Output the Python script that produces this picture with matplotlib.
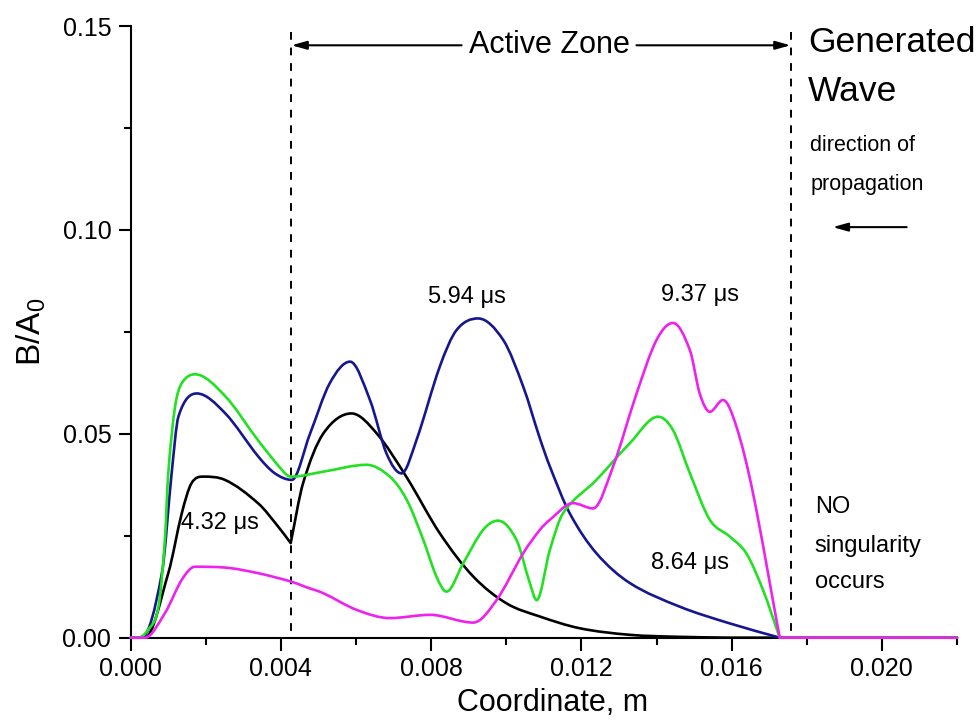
import numpy as np
import matplotlib
matplotlib.use('Agg')
import matplotlib.pyplot as plt
from matplotlib.path import Path
from matplotlib.patches import PathPatch
from matplotlib.ticker import MultipleLocator, FormatStrFormatter

plt.rcParams['font.family'] = ['Liberation Sans', 'DejaVu Sans']
plt.rcParams['mathtext.fontset'] = 'custom'
plt.rcParams['mathtext.rm'] = 'Liberation Sans'
plt.rcParams['mathtext.default'] = 'rm'

# coordinates in mm, values B/A0
black_x = [0.0, 0.38, 1.00, 1.36, 1.62, 1.93, 2.51, 3.40, 3.93, 4.26, 4.59, 5.13, 5.88,
           6.55, 7.35, 8.23, 9.12, 10.01, 10.89, 11.96, 13.29, 14.62, 16.0, 22.0]
black_y = [0.0, 0.0, 0.0158, 0.0305, 0.0379, 0.0395, 0.0387, 0.0329, 0.0272, 0.0232, 0.0379,
           0.0501, 0.0550, 0.0501, 0.0393, 0.0256, 0.0150, 0.0084, 0.0052, 0.0023, 0.0007,
           0.0002, 0.0, 0.0]

blue_x = [0.0, 0.29, 0.83, 1.09, 1.27, 1.76, 2.51, 3.40, 3.84, 4.29, 4.77, 5.30, 5.84, 6.37,
          6.81, 7.21, 7.61, 8.23, 8.68, 9.25, 9.92, 10.45, 10.89, 11.16, 11.69, 12.40, 13.29,
          14.62, 15.95, 17.28, 22.0]
blue_y = [0.0, 0.0, 0.0158, 0.0403, 0.0542, 0.0599, 0.0551, 0.0444, 0.0403, 0.0387, 0.0499,
          0.0624, 0.0677, 0.0583, 0.0452, 0.0403, 0.0485, 0.0665, 0.0755, 0.0783, 0.0730,
          0.0616, 0.0490, 0.0420, 0.0305, 0.0207, 0.0134, 0.0076, 0.0035, 0.0, 0.0]

green_x = [0.0, 0.19, 0.46, 0.74, 0.91, 1.00, 1.18, 1.36, 1.71, 2.51, 3.40, 4.11, 4.29, 5.12,
           6.28, 6.90, 7.35, 7.79, 8.14, 8.41, 8.85, 9.38, 9.78, 10.27, 10.63, 10.81, 11.16,
           11.51, 12.40, 13.29, 14.04, 14.44, 14.89, 15.42, 15.95, 16.39, 16.84, 17.28, 22.0]
green_y = [0.0, 0.0, 0.0019, 0.0076, 0.0240, 0.0403, 0.0566, 0.0624, 0.0646, 0.0593, 0.0483,
           0.0403, 0.0395, 0.0407, 0.0424, 0.0395, 0.0338, 0.0240, 0.0150, 0.0113, 0.0182,
           0.0264, 0.0287, 0.0240, 0.0133, 0.0092, 0.0215, 0.0305, 0.0387, 0.0477, 0.0542,
           0.0509, 0.0403, 0.0289, 0.0248, 0.0207, 0.0116, 0.0, 0.0]

magenta_x = [0.0, 0.38, 0.91, 1.36, 1.71, 2.51, 3.40, 4.29, 4.64, 5.13, 6.02, 6.90, 7.97,
             9.12, 9.74, 10.45, 10.89, 11.16, 11.78, 12.31, 12.84, 13.47, 14.00, 14.44, 14.89,
             15.15, 15.42, 15.77, 16.13, 16.57, 17.28, 22.0]
magenta_y = [0.0, 0.0, 0.0060, 0.0142, 0.0174, 0.0172, 0.0158, 0.0137, 0.0125, 0.0109, 0.0068,
             0.0048, 0.0056, 0.0037, 0.0092, 0.0207, 0.0264, 0.0289, 0.0330, 0.0317, 0.0419,
             0.0599, 0.0730, 0.0772, 0.0705, 0.0599, 0.0554, 0.0583, 0.0517, 0.0354, 0.0, 0.0]

zone_start = 0.00428
zone_end = 0.01757


def spline_path(xs, ys, corners=()):
    # smooth bezier through the read points; sharp corners where asked or where a curve meets zero
    x = np.asarray(xs, float) * 1e-3
    y = np.asarray(ys, float)
    h = np.diff(x)
    d = np.diff(y) / h
    n = len(x)
    m_in = np.zeros(n)   # tangent arriving at point i
    m_out = np.zeros(n)  # tangent leaving point i
    for i in range(1, n - 1):
        if xs[i] in corners:
            m_in[i], m_out[i] = d[i - 1], d[i]
        elif d[i] == 0 and d[i - 1] != 0:
            m_in[i], m_out[i] = d[i - 1], 0.0
        elif d[i - 1] * d[i] > 0:
            m = (y[i + 1] - y[i - 1]) / (x[i + 1] - x[i - 1])
            lim = 3 * min(abs(d[i - 1]), abs(d[i]))
            m = np.sign(m) * min(abs(m), lim)
            m_in[i] = m_out[i] = m
    verts = [(x[0], y[0])]
    codes = [Path.MOVETO]
    for i in range(n - 1):
        verts += [(x[i] + h[i] / 3, y[i] + m_out[i] * h[i] / 3),
                  (x[i + 1] - h[i] / 3, y[i + 1] - m_in[i + 1] * h[i] / 3),
                  (x[i + 1], y[i + 1])]
        codes += [Path.CURVE4] * 3
    return Path(verts, codes)


fig = plt.figure(figsize=(9.79, 7.22), dpi=100)
ax = fig.add_axes([0.1335, 0.1168, 0.844, 0.847])

curves = [(black_x, black_y, 'black', (4.26,)),
          (blue_x, blue_y, '#161690', ()),
          (green_x, green_y, '#22e022', ()),
          (magenta_x, magenta_y, '#ee22ee', ())]
for xs, ys, c, cor in curves:
    ax.add_patch(PathPatch(spline_path(xs, ys, cor), fill=False, edgecolor=c, lw=1.9,
                           clip_on=False, zorder=3, capstyle='round', joinstyle='round'))

for xv in [zone_start, zone_end]:
    ax.plot([xv, xv], [0.1485, 0], color='black', lw=1.4, dashes=(4, 4), clip_on=False)

ax.set_xlim(0, 0.022)
ax.set_ylim(0, 0.15)
ax.spines['top'].set_visible(False)
ax.spines['right'].set_visible(False)
ax.spines['left'].set_linewidth(1.5)
ax.spines['bottom'].set_linewidth(1.5)
ax.xaxis.set_major_locator(MultipleLocator(0.004))
ax.xaxis.set_minor_locator(MultipleLocator(0.002))
ax.yaxis.set_major_locator(MultipleLocator(0.05))
ax.yaxis.set_minor_locator(MultipleLocator(0.025))
ax.xaxis.set_major_formatter(FormatStrFormatter('%.3f'))
ax.yaxis.set_major_formatter(FormatStrFormatter('%.2f'))
ax.tick_params(which='major', direction='out', length=9, width=1.5, labelsize=18, pad=5)
ax.tick_params(which='minor', direction='out', length=5, width=1.5)

ax.set_xlabel('Coordinate, m', fontsize=22, labelpad=5)
ax.xaxis.label.set_x(0.511)
ax.set_ylabel('B/A$_0$', fontsize=24, labelpad=10)

# labels of the curves
ax.text(0.00238, 0.0281, '4.32 μs', fontsize=17, ha='center', va='center')
ax.text(0.00895, 0.0835, '5.94 μs', fontsize=17, ha='center', va='center')
ax.text(0.01515, 0.0840, '9.37 μs', fontsize=17, ha='center', va='center')
ax.text(0.01488, 0.0183, '8.64 μs', fontsize=17, ha='center', va='center')

ax.text(0.01821, 0.0320, 'NO', fontsize=17, ha='left', va='center')
ax.text(0.01821, 0.0225, 'singularity', fontsize=17, ha='left', va='center')
ax.text(0.01821, 0.0137, 'occurs', fontsize=17, ha='left', va='center')

# active zone
ax.text(0.011146, 0.1453, 'Active Zone', fontsize=22, ha='center', va='center')
arrow = dict(arrowstyle='-|>,head_length=0.9,head_width=0.25', lw=1.5, color='black',
             shrinkA=0, shrinkB=0)
ax.annotate('', xy=(zone_start, 0.1453), xytext=(0.00881, 0.1453), arrowprops=arrow)
ax.annotate('', xy=(zone_end, 0.1453), xytext=(0.013466, 0.1453), arrowprops=arrow)

ax.text(0.01803, 0.1460, 'Generated', fontsize=25.5, ha='left', va='center')
ax.text(0.01803, 0.1340, 'Wave', fontsize=25.5, ha='left', va='center')
ax.text(0.01810, 0.1207, 'direction of', fontsize=15.5, ha='left', va='center')
ax.text(0.01810, 0.1112, 'propagation', fontsize=15.5, ha='left', va='center')
ax.annotate('', xy=(0.01869, 0.1007), xytext=(0.02066, 0.1007), arrowprops=arrow)

fig.savefig('out.png', dpi=100)
